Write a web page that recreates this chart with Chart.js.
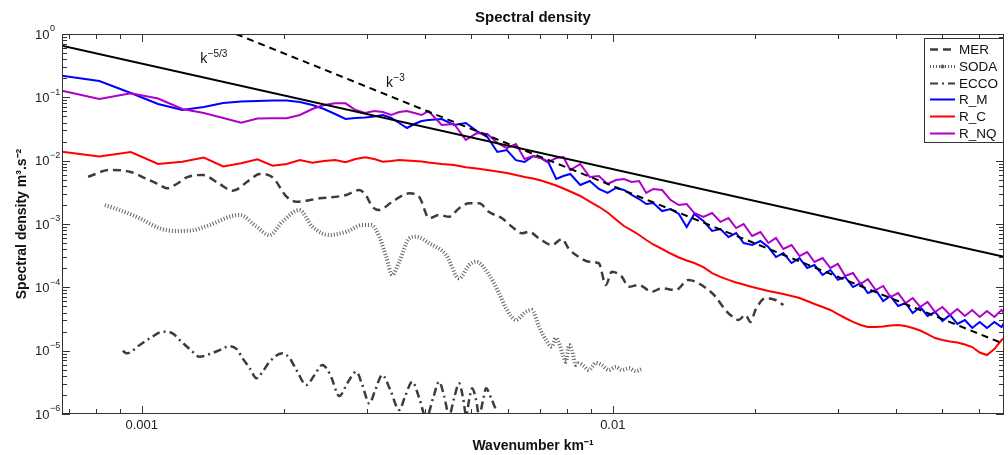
<!DOCTYPE html>
<html>
<head>
<meta charset="utf-8">
<title>Spectral density</title>
<script src="https://cdn.jsdelivr.net/npm/chart.js@4.4.0/dist/chart.umd.min.js"></script>
<style>
  html, body { margin: 0; padding: 0; background: #fff; }
  #wrap { width: 1008px; height: 455px; }
</style>
</head>
<body>
<div id="wrap"><canvas id="spectrum" width="1008" height="455"></canvas></div>
<script>
// ---- wavenumber grid shared by the three model runs (km^-1) ----
const modelK = [
  6.77e-4, 8.124e-4, 9.478e-4, 1.083e-3, 1.219e-3, 1.354e-3, 1.489e-3, 1.625e-3, 1.760e-3, 1.896e-3,
  2.031e-3, 2.166e-3, 2.302e-3, 2.437e-3, 2.573e-3, 2.708e-3, 2.843e-3, 2.979e-3, 3.114e-3, 3.250e-3,
  3.385e-3, 3.520e-3, 3.656e-3, 3.791e-3, 3.927e-3, 4.062e-3,
  4.333e-3, 4.604e-3, 4.874e-3, 5.145e-3, 5.416e-3, 5.687e-3, 5.958e-3, 6.228e-3, 6.499e-3, 6.770e-3,
  7.041e-3, 7.312e-3, 7.582e-3, 7.853e-3, 8.124e-3,
  8.530e-3, 8.936e-3, 9.343e-3, 9.749e-3, 1.0155e-2, 1.0561e-2, 1.0967e-2, 1.1374e-2, 1.178e-2, 1.2186e-2,
  1.2728e-2, 1.3269e-2, 1.3811e-2, 1.4352e-2, 1.4894e-2,
  1.5571e-2, 1.6248e-2, 1.6925e-2, 1.7602e-2, 1.8279e-2, 1.8956e-2,
  1.9768e-2, 2.0581e-2, 2.1393e-2, 2.2206e-2, 2.3018e-2,
  2.3966e-2, 2.4914e-2, 2.5861e-2, 2.6809e-2,
  2.7892e-2, 2.8976e-2, 3.0059e-2, 3.1142e-2,
  3.2361e-2, 3.3579e-2, 3.4798e-2,
  3.6152e-2, 3.7506e-2, 3.886e-2,
  4.0349e-2, 4.1839e-2, 4.3328e-2,
  4.4953e-2, 4.6578e-2,
  4.8338e-2, 5.0098e-2,
  5.1994e-2, 5.3889e-2,
  5.592e-2, 5.7951e-2,
  6.0118e-2, 6.2284e-2,
  6.4586e-2, 6.6888e-2, 6.77e-2
];

// R_M (blue)
const rmE = [
  0.220, 0.181, 0.117, 0.0785, 0.0631, 0.0704, 0.0814, 0.0860, 0.0875, 0.0891,
  0.0891, 0.0844, 0.0757, 0.0654, 0.0546, 0.0455, 0.0472, 0.0480, 0.0498, 0.0526,
  0.0472, 0.0393, 0.0328, 0.0379, 0.0423, 0.0439,
  0.0455, 0.0366, 0.0393, 0.0294, 0.0236, 0.0137, 0.0147, 0.0102, 0.00953, 0.0118,
  0.0110, 0.00919, 0.00513, 0.00573, 0.00616,
  0.00413, 0.00477, 0.00357, 0.00309, 0.00370, 0.00344, 0.00287, 0.00248, 0.00207, 0.00215,
  0.00160, 0.00172, 0.00144, 8.96e-4, 1.44e-3,
  1.12e-3, 7.75e-4, 8.33e-4, 6.23e-4, 7.21e-4, 5.01e-4,
  4.66e-4, 5.39e-4, 4.33e-4, 3.01e-4, 3.48e-4,
  2.42e-4, 2.90e-4, 2.02e-4, 2.25e-4,
  1.57e-4, 1.88e-4, 1.31e-4, 1.46e-4,
  1.01e-4, 1.17e-4, 8.13e-5,
  9.07e-5, 6.08e-5, 7.29e-5,
  5.07e-5, 5.65e-5, 3.93e-5,
  4.89e-5, 3.53e-5,
  4.08e-5, 2.94e-5,
  3.66e-5, 2.64e-5,
  3.05e-5, 2.28e-5,
  2.84e-5, 2.28e-5,
  2.84e-5, 2.36e-5, 2.73e-5
];

// R_C (red)
const rcE = [
  0.01385, 0.0116, 0.0137, 0.00886, 0.00963, 0.0112, 0.00809, 0.00909, 0.0105, 0.00833,
  0.00886, 0.0102, 0.00929, 0.00988, 0.0102, 0.00942, 0.0106, 0.0113, 0.0106, 0.00963,
  0.00988, 0.0102, 0.01006, 0.00988, 0.00970, 0.00935,
  0.00886, 0.00854, 0.00786, 0.00752, 0.00712, 0.00674, 0.00639, 0.00594, 0.00552, 0.00523,
  0.00486, 0.00444, 0.00405, 0.00363, 0.00326,
  0.00277, 0.00226, 0.00187, 0.00152, 0.00118, 9.30e-4, 7.90e-4, 6.70e-4, 5.59e-4, 4.75e-4,
  4.03e-4, 3.42e-4, 2.96e-4, 2.65e-4, 2.42e-4,
  2.09e-4, 1.68e-4, 1.46e-4, 1.31e-4, 1.19e-4, 1.11e-4,
  1.01e-4, 9.41e-5, 8.75e-5, 8.29e-5, 7.84e-5,
  7.29e-5, 6.78e-5, 6.08e-5, 5.45e-5,
  4.89e-5, 4.39e-5, 3.79e-5, 3.28e-5,
  2.84e-5, 2.54e-5, 2.36e-5,
  2.36e-5, 2.41e-5, 2.50e-5,
  2.54e-5, 2.45e-5, 2.28e-5,
  2.08e-5, 1.83e-5,
  1.58e-5, 1.47e-5,
  1.40e-5, 1.35e-5,
  1.25e-5, 1.14e-5,
  9.35e-6, 8.54e-6,
  1.06e-5, 1.47e-5, 1.58e-5
];

// R_NQ (magenta)
const rnqE = [
  0.127, 0.0941, 0.116, 0.0958, 0.0654, 0.0566, 0.0472, 0.0398, 0.0463, 0.0467,
  0.0467, 0.0526, 0.0654, 0.0757, 0.0805, 0.0805, 0.0631, 0.0566, 0.0608, 0.0587,
  0.0526, 0.0587, 0.0608, 0.0566, 0.0526, 0.0608,
  0.0366, 0.0379, 0.0212, 0.0273, 0.0264, 0.0190, 0.0158, 0.0183, 0.0106, 0.0118,
  0.0110, 0.00953, 0.0110, 0.0114, 0.00712,
  0.00886, 0.00552, 0.00573, 0.00428, 0.00495, 0.00513, 0.00460, 0.00477, 0.00309, 0.00357,
  0.00344, 0.00239, 0.00199, 0.00207, 0.00149,
  1.29e-3, 1.49e-3, 1.08e-3, 1.24e-3, 8.64e-4, 1.00e-3,
  6.46e-4, 7.47e-4, 5.01e-4, 6.01e-4, 4.03e-4,
  4.66e-4, 3.12e-4, 3.61e-4, 2.51e-4,
  2.90e-4, 2.02e-4, 2.34e-4, 1.51e-4,
  1.68e-4, 1.13e-4, 1.35e-4,
  9.07e-5, 1.05e-4, 7.03e-5,
  8.13e-5, 5.65e-5, 6.78e-5,
  4.89e-5, 5.87e-5,
  4.08e-5, 4.89e-5,
  3.66e-5, 4.55e-5,
  3.53e-5, 4.39e-5,
  3.40e-5, 4.23e-5,
  3.40e-5, 4.39e-5, 3.93e-5
];

// MER
const merK = [
  7.69e-4, 8.55e-4, 9.43e-4, 1.015e-3, 1.092e-3, 1.130e-3, 1.186e-3, 1.245e-3, 1.346e-3, 1.463e-3,
  1.559e-3, 1.694e-3, 1.778e-3, 1.895e-3, 2.029e-3, 2.130e-3, 2.383e-3, 2.718e-3, 2.896e-3, 2.997e-3,
  3.086e-3, 3.193e-3, 3.402e-3, 3.697e-3, 3.882e-3, 4.076e-3, 4.279e-3, 4.493e-3, 4.718e-3, 4.954e-3,
  5.201e-3, 5.461e-3, 5.819e-3, 6.109e-3, 6.415e-3, 6.638e-3, 6.971e-3, 7.427e-3, 7.799e-3, 8.070e-3,
  8.472e-3, 8.896e-3, 9.340e-3, 9.665e-3, 9.952e-3, 1.045e-2, 1.081e-2, 1.135e-2, 1.210e-2, 1.270e-2,
  1.360e-2, 1.449e-2, 1.521e-2, 1.597e-2, 1.653e-2, 1.702e-2, 1.761e-2, 1.814e-2, 1.849e-2, 1.913e-2,
  1.961e-2, 2.009e-2, 2.109e-2, 2.215e-2, 2.303e-2
];
const merE = [
  5.58e-3, 7.12e-3, 6.69e-3, 5.32e-3, 4.13e-3, 3.66e-3, 4.28e-3, 5.46e-3, 5.94e-3, 4.28e-3,
  3.36e-3, 4.95e-3, 6.16e-3, 5.46e-3, 2.70e-3, 2.25e-3, 2.54e-3, 2.87e-3, 3.44e-3, 2.77e-3,
  1.87e-3, 1.66e-3, 2.25e-3, 3.05e-3, 2.67e-3, 1.24e-3, 1.39e-3, 1.30e-3, 1.77e-3, 2.12e-3,
  2.12e-3, 1.55e-3, 1.23e-3, 9.06e-4, 7.13e-4, 7.55e-4, 5.94e-4, 4.66e-4, 5.79e-4, 4.03e-4,
  3.01e-4, 2.54e-4, 2.40e-4, 1.09e-4, 1.76e-4, 1.47e-4, 1.02e-4, 1.09e-4, 8.53e-5, 9.65e-5,
  9.07e-5, 1.31e-4, 1.16e-4, 9.07e-5, 7.11e-5, 5.26e-5, 3.89e-5, 3.28e-5, 3.05e-5, 3.66e-5,
  2.84e-5, 4.39e-5, 6.71e-5, 6.31e-5, 5.26e-5
];

// SODA
const sodaK = [
  8.35e-4, 8.98e-4, 9.90e-4, 1.092e-3, 1.175e-3, 1.264e-3, 1.393e-3, 1.536e-3, 1.613e-3, 1.753e-3,
  1.867e-3, 1.989e-3, 2.161e-3, 2.303e-3, 2.502e-3, 2.718e-3, 2.939e-3, 3.071e-3, 3.193e-3, 3.304e-3,
  3.402e-3, 3.520e-3, 3.697e-3, 3.825e-3, 4.076e-3, 4.428e-3, 4.718e-3, 4.954e-3, 5.126e-3, 5.461e-3,
  5.734e-3, 5.934e-3, 6.230e-3, 6.542e-3, 6.737e-3, 6.971e-3, 7.213e-3, 7.427e-3, 7.572e-3, 7.685e-3,
  7.837e-3, 7.953e-3, 8.070e-3, 8.189e-3, 8.348e-3, 8.472e-3, 8.681e-3, 8.896e-3, 9.205e-3, 9.477e-3,
  9.806e-3, 1.015e-2, 1.045e-2, 1.081e-2, 1.119e-2, 1.152e-2
];
const sodaE = [
  1.99e-3, 1.66e-3, 1.23e-3, 8.55e-4, 7.75e-4, 7.84e-4, 9.64e-4, 1.30e-3, 1.39e-3, 9.06e-4,
  6.70e-4, 1.09e-3, 1.66e-3, 9.06e-4, 6.70e-4, 7.55e-4, 9.64e-4, 9.64e-4, 6.30e-4, 3.04e-4,
  1.57e-4, 2.54e-4, 5.94e-4, 6.30e-4, 4.96e-4, 3.24e-4, 1.39e-4, 2.25e-4, 2.54e-4, 1.57e-4,
  8.04e-5, 4.67e-5, 3.05e-5, 4.12e-5, 4.39e-5, 2.39e-5, 1.47e-5, 1.15e-5, 1.58e-5, 1.31e-5,
  8.54e-6, 6.69e-6, 1.23e-5, 1.02e-5, 5.94e-6, 6.32e-6, 5.72e-6, 4.95e-6, 6.39e-6, 5.94e-6,
  4.95e-6, 5.52e-6, 4.95e-6, 5.27e-6, 4.77e-6, 5.13e-6
];

// ECCO
const eccoK = [
  9.11e-4, 9.29e-4, 9.90e-4, 1.050e-3, 1.108e-3, 1.158e-3, 1.204e-3, 1.264e-3, 1.327e-3, 1.393e-3,
  1.463e-3, 1.536e-3, 1.590e-3, 1.637e-3, 1.694e-3, 1.753e-3, 1.804e-3, 1.867e-3, 1.989e-3, 2.059e-3,
  2.130e-3, 2.236e-3, 2.326e-3, 2.418e-3, 2.514e-3, 2.627e-3, 2.732e-3, 2.854e-3, 2.939e-3, 3.041e-3,
  3.131e-3, 3.240e-3, 3.370e-3, 3.520e-3, 3.625e-3, 3.751e-3, 3.882e-3, 4.016e-3, 4.155e-3, 4.279e-3,
  4.384e-3, 4.493e-3, 4.604e-3, 4.718e-3, 4.810e-3, 4.882e-3, 4.954e-3, 5.027e-3, 5.126e-3, 5.201e-3,
  5.304e-3, 5.382e-3, 5.514e-3, 5.650e-3
];
const eccoE = [
  9.98e-6, 9.08e-6, 1.23e-5, 1.64e-5, 1.99e-5, 1.90e-5, 1.47e-5, 1.06e-5, 8.03e-6, 8.86e-6,
  1.02e-5, 1.18e-5, 1.06e-5, 7.57e-6, 5.32e-6, 3.66e-6, 4.60e-6, 6.69e-6, 9.08e-6, 7.66e-6,
  4.95e-6, 2.87e-6, 4.13e-6, 5.94e-6, 4.13e-6, 1.92e-6, 3.09e-6, 4.65e-6, 2.87e-6, 1.47e-6,
  2.39e-6, 4.13e-6, 2.39e-6, 1.16e-6, 1.92e-6, 3.23e-6, 1.79e-6, 8.64e-7, 1.79e-6, 3.23e-6,
  1.92e-6, 9.5e-7, 1.79e-6, 3.05e-6, 1.79e-6, 9.5e-7, 1.66e-6, 2.54e-6, 1.66e-6, 9.5e-7,
  1.66e-6, 2.54e-6, 1.79e-6, 1.16e-6
];

// reference slopes (end points)
const k53K = [6.77e-4, 6.77e-2];
const k53E = [0.653, 3.03e-4];
const k3K = [1.585e-3, 6.77e-2];
const k3E = [1.0, 1.28e-5];

// axes
const xRange = [6.77e-4, 6.77e-2];
const yRange = [1e-6, 1];
const xTickLabels = [0.001, 0.01];
const yTickExps = [0, -1, -2, -3, -4, -5, -6];

const FONT = "'Liberation Sans', Arial, Helvetica, sans-serif";
Chart.defaults.font.family = FONT;
Chart.defaults.color = '#222';

function pts(ks, es) { return ks.map((k, i) => ({ x: k, y: es[i] })); }

function logTicks(min, max) {
  const out = [];
  for (let e = Math.floor(Math.log10(min)); e <= Math.ceil(Math.log10(max)); e++) {
    for (let m = 1; m <= 9; m++) {
      const v = m * Math.pow(10, e);
      if (v >= min * 0.9999 && v <= max * 1.0001) out.push({ v, major: m === 1 });
    }
  }
  return out;
}

// slope notes, anchored in data units
const slopeNotes = [
  { k: 1.33e-3, e: 0.348, sup: '\u22125/3' },
  { k: 3.30e-3, e: 0.1455, sup: '\u22123' }
];

// box, inward ticks, y labels, title, notes, legend
const decor = {
  id: 'decor',
  afterDraw(chart) {
    const { ctx, chartArea: a, scales: { x, y } } = chart;
    ctx.save();

    ctx.strokeStyle = '#333';
    ctx.lineWidth = 1;
    ctx.setLineDash([]);
    ctx.beginPath();
    for (const t of logTicks(x.min, x.max)) {
      const px = Math.round(x.getPixelForValue(t.v)) + 0.5;
      const len = t.major ? 8 : 5;
      ctx.moveTo(px, a.bottom); ctx.lineTo(px, a.bottom - len);
      ctx.moveTo(px, a.top); ctx.lineTo(px, a.top + len);
    }
    for (const t of logTicks(y.min, y.max)) {
      const py = Math.round(y.getPixelForValue(t.v)) + 0.5;
      const len = t.major ? 8 : 5;
      ctx.moveTo(a.left, py); ctx.lineTo(a.left + len, py);
      ctx.moveTo(a.right, py); ctx.lineTo(a.right - len, py);
    }
    ctx.stroke();
    ctx.strokeRect(a.left + 0.5, a.top + 0.5, a.right - a.left - 1, a.bottom - a.top - 1);

    // y tick labels 10^n
    ctx.fillStyle = '#222';
    ctx.textAlign = 'left';
    ctx.textBaseline = 'middle';
    for (const e of yTickExps) {
      const py = y.getPixelForValue(Math.pow(10, e));
      const lx = a.left - 27;
      ctx.font = '13px ' + FONT;
      ctx.fillText('10', lx, py + 1);
      const w = ctx.measureText('10').width;
      ctx.font = '9px ' + FONT;
      ctx.fillText(e === 0 ? '0' : '\u2212' + Math.abs(e), lx + w + 0.5, py - 5);
    }

    // title
    ctx.textAlign = 'center';
    ctx.font = 'bold 15px ' + FONT;
    ctx.fillStyle = '#111';
    ctx.fillText('Spectral density', (a.left + a.right) / 2, 18);

    // slope notes
    ctx.textAlign = 'left';
    ctx.textBaseline = 'alphabetic';
    for (const n of slopeNotes) {
      const px = x.getPixelForValue(n.k);
      const py = y.getPixelForValue(n.e);
      ctx.font = '14px ' + FONT;
      ctx.fillText('k', px, py);
      const w = ctx.measureText('k').width;
      ctx.font = '10px ' + FONT;
      ctx.fillText(n.sup, px + w + 0.5, py - 6);
    }

    // legend
    const rows = chart.data.datasets.filter(d => d.inLegend);
    const lw = 80, rowH = 16.8;
    const x0 = a.right - lw, y0 = a.top + 4, h = 105;
    ctx.fillStyle = '#fff';
    ctx.fillRect(x0, y0, lw, h);
    ctx.strokeStyle = '#333';
    ctx.lineWidth = 1;
    ctx.strokeRect(x0 + 0.5, y0 + 0.5, lw - 1, h - 1);
    rows.forEach((d, i) => {
      const cy = Math.round(y0 + 11 + i * rowH) + 0.5;
      ctx.setLineDash(d.borderDash || []);
      ctx.strokeStyle = d.borderColor;
      ctx.lineWidth = d.legendWidth || d.borderWidth;
      ctx.beginPath();
      ctx.moveTo(x0 + 6, cy);
      ctx.lineTo(x0 + 31, cy);
      ctx.stroke();
      ctx.setLineDash([]);
      if (d.legendDot) {
        ctx.fillStyle = d.borderColor;
        ctx.beginPath();
        ctx.arc(x0 + 18.5, cy, 2, 0, Math.PI * 2);
        ctx.fill();
      }
      ctx.fillStyle = '#111';
      ctx.font = '13.5px ' + FONT;
      ctx.textBaseline = 'middle';
      ctx.fillText(d.label, x0 + 35, cy + 1);
    });

    ctx.restore();
  }
};

const datasets = [
  { label: 'MER', data: pts(merK, merE), borderColor: '#3c3c3c', borderWidth: 2.5,
    borderDash: [8, 5], cubicInterpolationMode: 'monotone', order: 6, inLegend: true },
  { label: 'SODA', data: pts(sodaK, sodaE), borderColor: '#606060', borderWidth: 4,
    borderDash: [1, 2], cubicInterpolationMode: 'monotone', order: 7, inLegend: true,
    legendDot: true, legendWidth: 3 },
  { label: 'ECCO', data: pts(eccoK, eccoE), borderColor: '#3c3c3c', borderWidth: 2.5,
    borderDash: [8, 4, 2, 4], cubicInterpolationMode: 'monotone', order: 8, inLegend: true,
    legendWidth: 2 },
  { label: 'R_M', data: pts(modelK, rmE), borderColor: '#0000ff', borderWidth: 2, order: 3, inLegend: true },
  { label: 'R_C', data: pts(modelK, rcE), borderColor: '#ff0000', borderWidth: 2, order: 4, inLegend: true },
  { label: 'R_NQ', data: pts(modelK, rnqE), borderColor: '#b000c8', borderWidth: 2, order: 2, inLegend: true },
  { label: 'k-5/3', data: pts(k53K, k53E), borderColor: '#000', borderWidth: 2, order: 1 },
  { label: 'k-3', data: pts(k3K, k3E), borderColor: '#000', borderWidth: 2, borderDash: [7, 5], order: 0 }
];

new Chart(document.getElementById('spectrum'), {
  type: 'line',
  data: { datasets },
  options: {
    responsive: false,
    animation: false,
    devicePixelRatio: 1,
    layout: { padding: { top: 34, right: 2, bottom: 0, left: 0 } },
    elements: { point: { radius: 0, hoverRadius: 0 }, line: { fill: false, tension: 0 } },
    plugins: {
      legend: { display: false },
      title: { display: false },
      tooltip: { enabled: false }
    },
    scales: {
      x: {
        type: 'logarithmic',
        position: 'bottom',
        min: xRange[0],
        max: xRange[1],
        grid: { display: false, drawTicks: false },
        border: { display: false },
        ticks: {
          autoSkip: false,
          maxRotation: 0,
          padding: 4,
          color: '#222',
          font: { size: 13 },
          callback: (v) => {
            const hit = xTickLabels.find(t => Math.abs(v - t) / t < 1e-6);
            return hit ? String(hit) : '';
          }
        },
        title: {
          display: true,
          text: 'Wavenumber km\u207b\u00b9',
          color: '#111',
          font: { size: 14, weight: 'bold' },
          padding: { top: 3, bottom: 0 }
        },
        afterFit: (s) => { s.height = 41; }
      },
      y: {
        type: 'logarithmic',
        position: 'left',
        min: yRange[0],
        max: yRange[1],
        grid: { display: false, drawTicks: false },
        border: { display: false },
        ticks: { display: false },
        title: {
          display: true,
          text: 'Spectral density m\u00b3.s\u207b\u00b2',
          color: '#111',
          font: { size: 14, weight: 'bold' },
          padding: { top: 14, bottom: 0 }
        },
        afterFit: (s) => { s.width = 62; }
      }
    }
  },
  plugins: [decor]
});
</script>
</body>
</html>
